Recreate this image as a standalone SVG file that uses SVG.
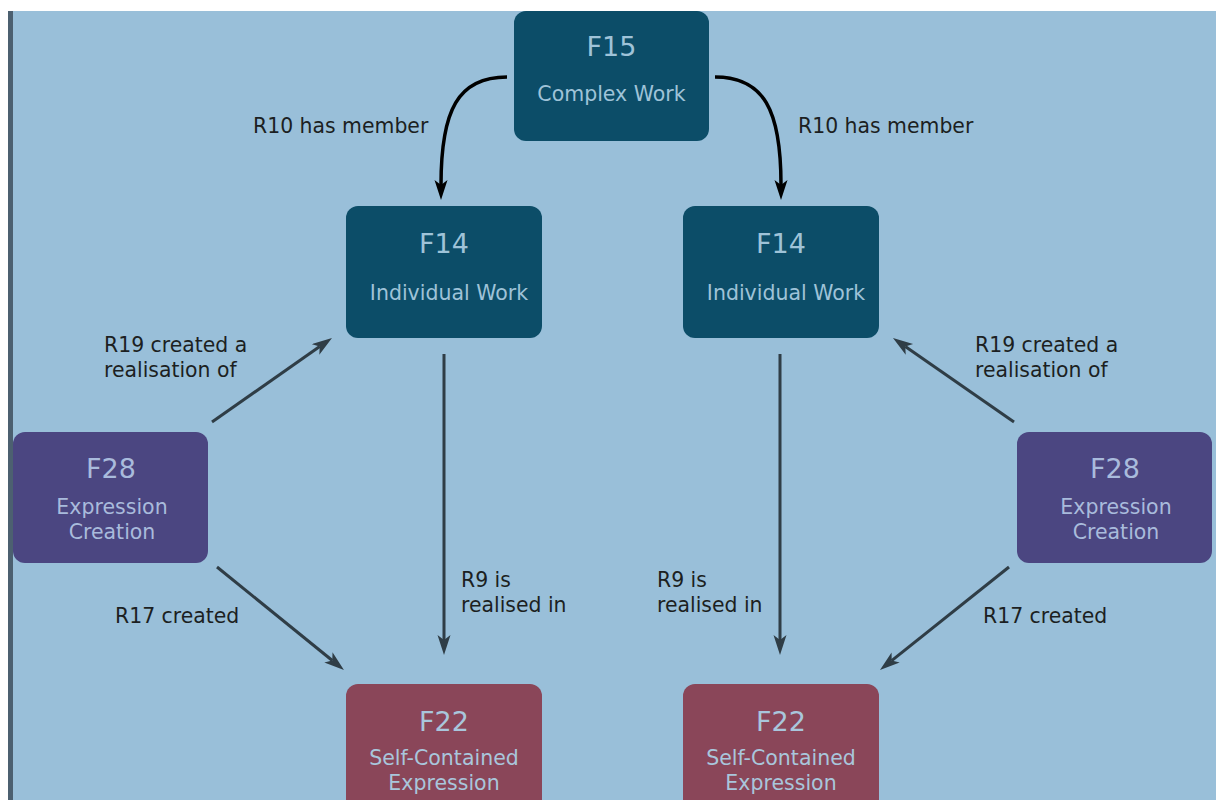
<svg xmlns="http://www.w3.org/2000/svg" width="1216" height="800" viewBox="0 0 1216 800">
<style>
.node-a{fill:#0c4d68}
.node-p{fill:#4b4681}
.node-r{fill:#8a4659}
.t{font-family:"DejaVu Sans","Liberation Sans",sans-serif;text-anchor:middle}
.big{font-size:27px}
.sub{font-size:20.5px}
.ta{fill:#9fc3d8}
.tp{fill:#a9bbdc}
.tr{fill:#a9c6dc}
.lbl{font-family:"DejaVu Sans","Liberation Sans",sans-serif;font-size:20.4px;fill:#1c1f22}
.ln{fill:none;stroke:#2f3d46;stroke-width:3}
.cv{fill:none;stroke:#000;stroke-width:3.5}
</style>
<defs>
<marker id="ah" markerUnits="userSpaceOnUse" markerWidth="22" markerHeight="14" refX="5" refY="6.5" orient="auto">
<path d="M0,0 L20,6.5 L0,13 L5,6.5 z" fill="#2f3d46"/>
</marker>
<marker id="ahk" markerUnits="userSpaceOnUse" markerWidth="22" markerHeight="14" refX="5" refY="6.5" orient="auto">
<path d="M0,0 L20,6.5 L0,13 L5,6.5 z" fill="#000"/>
</marker>
</defs>
<rect x="0" y="0" width="1216" height="800" fill="#ffffff"/>
<rect x="8" y="11" width="1208" height="789" fill="#99bfd9"/>
<rect x="8" y="11" width="5" height="789" fill="#4c6070"/>

<g id="connectors">
<path class="cv" d="M507,77 C458,77 441,110 441,185" marker-end="url(#ahk)"/>
<path class="cv" d="M715,77 C764,77 781,110 781,185" marker-end="url(#ahk)"/>
<line class="ln" x1="444" y1="354" x2="444" y2="640" marker-end="url(#ah)"/>
<line class="ln" x1="780" y1="354" x2="780" y2="640" marker-end="url(#ah)"/>
<line class="ln" x1="212" y1="422" x2="319.7" y2="346.6" marker-end="url(#ah)"/>
<line class="ln" x1="1014" y1="422" x2="905.3" y2="346.6" marker-end="url(#ah)"/>
<line class="ln" x1="217" y1="567" x2="332.3" y2="660.5" marker-end="url(#ah)"/>
<line class="ln" x1="1009" y1="567" x2="891.7" y2="660.6" marker-end="url(#ah)"/>
<text class="lbl" x="253" y="133">R10 has member</text>
<text class="lbl" x="798" y="133">R10 has member</text>
<text class="lbl" x="104" y="352">R19 created a</text>
<text class="lbl" x="104" y="377">realisation of</text>
<text class="lbl" x="975" y="352">R19 created a</text>
<text class="lbl" x="975" y="377">realisation of</text>
<text class="lbl" x="115" y="623">R17 created</text>
<text class="lbl" x="983" y="623">R17 created</text>
<text class="lbl" x="461" y="587">R9 is</text>
<text class="lbl" x="461" y="612">realised in</text>
<text class="lbl" x="657" y="587">R9 is</text>
<text class="lbl" x="657" y="612">realised in</text>
</g>

<g id="f15">
<rect class="node-a" x="514" y="11" width="195" height="130" rx="12"/>
<text class="t big ta" x="611.5" y="56">F15</text>
<text class="t sub ta" x="611.5" y="101">Complex Work</text>
</g>
<g id="f14-left">
<rect class="node-a" x="346" y="206" width="196" height="132" rx="12"/>
<text class="t big ta" x="444" y="253">F14</text>
<text class="t sub ta" x="449" y="300">Individual Work</text>
</g>
<g id="f14-right">
<rect class="node-a" x="683" y="206" width="196" height="132" rx="12"/>
<text class="t big ta" x="781" y="253">F14</text>
<text class="t sub ta" x="786" y="300">Individual Work</text>
</g>
<g id="f28-left">
<rect class="node-p" x="13" y="432" width="195" height="131" rx="12"/>
<text class="t big tp" x="111" y="478">F28</text>
<text class="t sub tp" x="112" y="514">Expression</text>
<text class="t sub tp" x="112" y="539">Creation</text>
</g>
<g id="f28-right">
<rect class="node-p" x="1017" y="432" width="195" height="131" rx="12"/>
<text class="t big tp" x="1115" y="478">F28</text>
<text class="t sub tp" x="1116" y="514">Expression</text>
<text class="t sub tp" x="1116" y="539">Creation</text>
</g>
<g id="f22-left">
<rect class="node-r" x="346" y="684" width="196" height="140" rx="12"/>
<text class="t big tr" x="444" y="731">F22</text>
<text class="t sub tr" x="444" y="765">Self-Contained</text>
<text class="t sub tr" x="444" y="790">Expression</text>
</g>
<g id="f22-right">
<rect class="node-r" x="683" y="684" width="196" height="140" rx="12"/>
<text class="t big tr" x="781" y="731">F22</text>
<text class="t sub tr" x="781" y="765">Self-Contained</text>
<text class="t sub tr" x="781" y="790">Expression</text>
</g>
</svg>
